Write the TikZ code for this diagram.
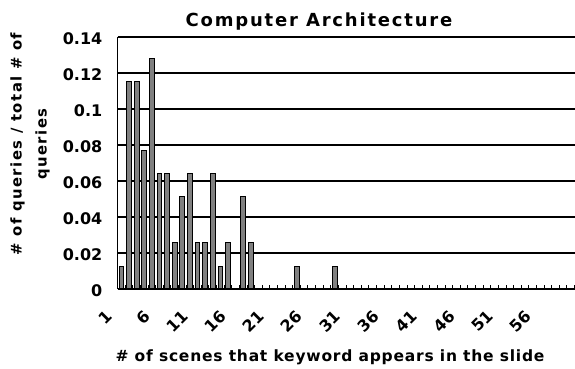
\documentclass[tikz,border=0pt]{standalone}
\usepackage{fontspec}
\newfontfamily\titlefont{DejaVu Sans}[LetterSpace=10]
\newfontfamily\axfont{DejaVu Sans}[LetterSpace=5]
\newfontfamily\ytfont{DejaVu Sans}[LetterSpace=10]
\newfontfamily\tickfont{DejaVu Sans}
\begin{document}
\begin{tikzpicture}[x=1pt,y=-1pt,
  grid/.style={line width=1.3pt,black},
  axisline/.style={line width=1.6pt,black},
  barbox/.style={draw=black,line width=0.8pt,fill=black!50},
  tickmark/.style={line width=0.9pt,black},
  ylab/.style={font=\tickfont\bfseries\fontsize{16}{18}\selectfont,anchor=east,inner sep=0pt},
  xlab/.style={font=\tickfont\bfseries\fontsize{16}{18}\selectfont,anchor=east,rotate=45,inner sep=0pt},
  ttl/.style={font=\titlefont\bfseries\fontsize{18}{20}\selectfont,inner sep=0pt},
  xttl/.style={font=\axfont\bfseries\fontsize{15.5}{18}\selectfont,inner sep=0pt},
  yttl/.style={font=\ytfont\bfseries\fontsize{14.8}{25}\selectfont,inner sep=0pt,align=center,rotate=90}]
\useasboundingbox (0,0) rectangle (575,369);
\def\L{117.5}\def\B{289}\def\W{7.617}
% gridlines
\foreach \i in {1,...,7} \draw[grid] (\L,{\B-36*\i}) -- (575,{\B-36*\i});
% bars
\foreach \k/\n in {1/1,2/9,3/9,4/6,5/10,6/5,7/5,8/2,9/4,10/5,11/2,12/2,13/5,14/1,15/2,17/4,18/2,24/1,29/1}
  \draw[barbox] ({\L+(\k-0.5)*\W-2.4},\B) rectangle ({\L+(\k-0.5)*\W+2.4},{\B-\n*23.077});
% ticks
\foreach \k in {0,...,60} \draw[tickmark] ({\L+\k*\W},\B) -- ++(0,-4.5);
% axes
\draw[axisline] (\L,\B) -- (575,\B);
\draw[grid] (\L,\B) -- (\L,{\B-252});
% y labels
\foreach \v [count=\i from 0] in {0,0.02,0.04,0.06,0.08,0.1,0.12,0.14}
  \node[ylab] (yl\i) at (102.5,{\B-36*\i+1.5}) {\v};
% x labels
\foreach \c in {1,6,...,56}
  \node[xlab] (xl\c) at ({\L+(\c-0.5)*\W-12},313) {\c};
% titles
\node[ttl,anchor=base] (title) at (319,27) {Computer Architecture};
\node[xttl,anchor=base] (xtitle) at (330,361) {\# of scenes that keyword appears in the slide};
\node[yttl] (ytitle) at (30,144) {\# of queries / total \# of\\queries};
\end{tikzpicture}
\end{document}
